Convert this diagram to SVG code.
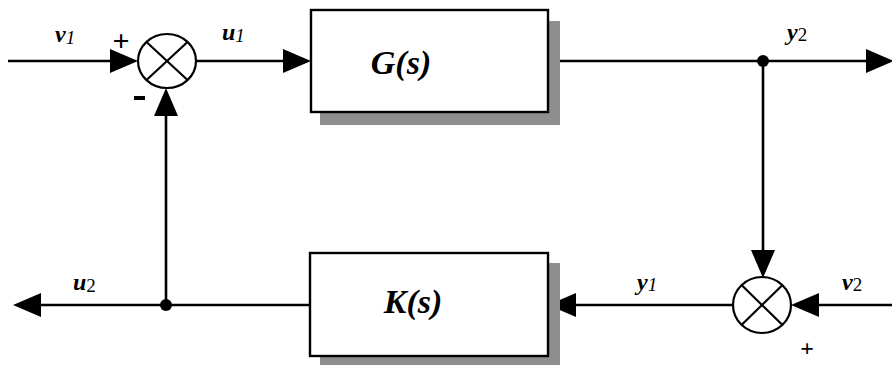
<svg xmlns="http://www.w3.org/2000/svg" width="892" height="365" viewBox="0 0 892 365">
<style>
.wire{fill:none;stroke:#000;stroke-width:2.6;marker-end:url(#ah)}
.box{fill:#fff;stroke:#000;stroke-width:2.4}
.shadow{fill:#8e8e8e}
.sum{fill:#fff;stroke:#000;stroke-width:2.2}
.cross{stroke:#000;stroke-width:2.2}
text{font-family:'Liberation Serif','Times New Roman','DejaVu Serif',serif;fill:#000}
.lbl{font-weight:bold;font-style:italic;font-size:24px}
.sub{font-size:19px;font-style:italic;font-weight:normal}
.sub2{font-size:19px;font-style:normal;font-weight:normal}
.big{font-weight:bold;font-style:italic;font-size:34px}
.sign{font-weight:bold}
</style>
<defs>
<marker id="ah" viewBox="0 0 28 24" refX="18" refY="12" markerWidth="28" markerHeight="24" markerUnits="userSpaceOnUse" orient="auto">
<path d="M0,0 L28,12 L0,24 Z" fill="#000"/>
</marker>
</defs>
<rect width="892" height="365" fill="#fff"/>

<g id="connectors">
<path class="wire" d="M8,61 H128"/>
<path class="wire" d="M196,61 H301"/>
<path class="wire" d="M548,61 H884"/>
<path class="wire" d="M763,61 V268"/>
<path class="wire" d="M892,305 H801"/>
<path class="wire" d="M733,305 H558"/>
<path class="wire" d="M310,305 H23"/>
<path class="wire" d="M166,305 V98"/>
<circle cx="763" cy="61" r="6" fill="#000"/>
<circle cx="166" cy="305" r="6" fill="#000"/>
</g>

<g id="sum1">
<ellipse class="sum" cx="167" cy="61" rx="29" ry="27"/>
<line class="cross" x1="146.5" y1="42" x2="187.5" y2="80"/>
<line class="cross" x1="187.5" y1="42" x2="146.5" y2="80"/>
<text class="sign" x="121" y="51" font-size="30" text-anchor="middle" font-family="Liberation Serif, DejaVu Serif, serif">+</text>
<rect x="134" y="96" width="11" height="4" fill="#000"/>
</g>

<g id="G">
<rect class="shadow" x="320" y="21" width="240" height="104"/>
<rect class="box" x="311" y="10" width="237" height="102"/>
<text class="big" x="401" y="74" text-anchor="middle" font-family="Liberation Serif, DejaVu Serif, serif">G(s)</text>
</g>

<g id="K">
<rect class="shadow" x="320" y="263" width="240" height="102"/>
<rect class="box" x="310" y="253" width="238" height="103"/>
<text class="big" x="413" y="313" text-anchor="middle" font-family="Liberation Serif, DejaVu Serif, serif">K(s)</text>
</g>

<g id="sum2">
<ellipse class="sum" cx="762" cy="305" rx="29" ry="28"/>
<line class="cross" x1="741.5" y1="285" x2="782.5" y2="325"/>
<line class="cross" x1="782.5" y1="285" x2="741.5" y2="325"/>
<text class="sign" x="807" y="356" font-size="24" text-anchor="middle" font-family="Liberation Serif, DejaVu Serif, serif">+</text>
</g>

<g id="labels" font-family="Liberation Serif, DejaVu Serif, serif">
<text class="lbl" x="55" y="42">v<tspan class="sub" dy="2">1</tspan></text>
<text class="lbl" x="222" y="40">u<tspan class="sub" dy="2">1</tspan></text>
<text class="lbl" x="787" y="40">y<tspan class="sub2" dy="1">2</tspan></text>
<text class="lbl" x="73" y="290">u<tspan class="sub2" dy="2">2</tspan></text>
<text class="lbl" x="637" y="290">y<tspan class="sub" dy="1">1</tspan></text>
<text class="lbl" x="842" y="290">v<tspan class="sub2" dy="1">2</tspan></text>
</g>
</svg>
